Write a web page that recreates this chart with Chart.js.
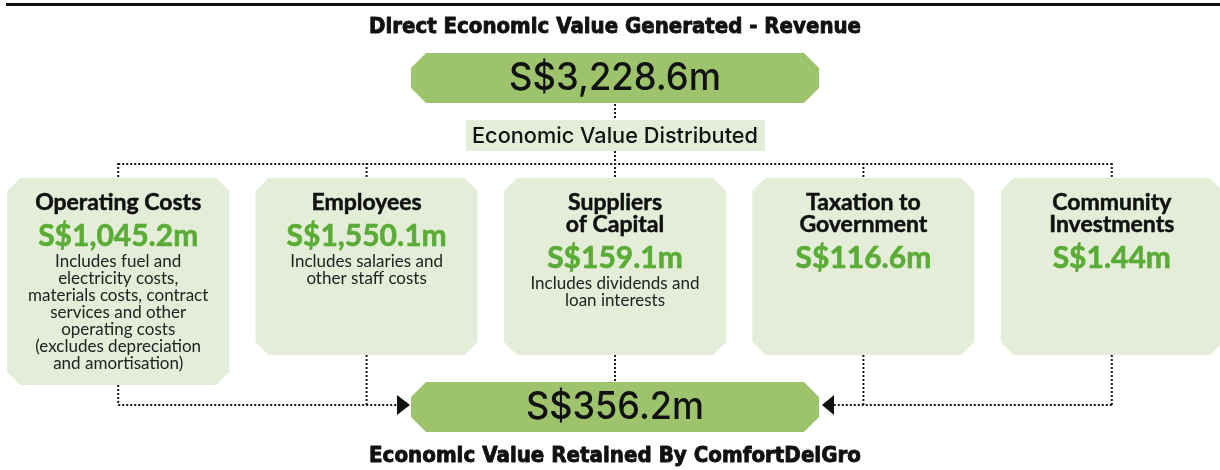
<!DOCTYPE html>
<html>
<head>
<meta charset="utf-8">
<script src="https://cdn.jsdelivr.net/npm/chart.js@4.4.0/dist/chart.umd.min.js"></script>
<style>
    html, body { margin: 0; padding: 0; background: #fff; overflow: hidden; width: 1220px; height: 470px; }
    #wrap { position: absolute; left: -6px; top: 0; width: 1242px; height: 470px; }
</style>
</head>
<body>
<div id="wrap"><canvas id="flowChart"></canvas></div>
<script>
// data
const categories = [['Operating Costs'], ['Employees'], ['Suppliers', 'of Capital'], ['Taxation to', 'Government'], ['Community', 'Investments']];
const values = [1045.2, 1550.1, 159.1, 116.6, 1.44];
const notes = [
    ['Includes fuel and', 'electricity costs,', 'materials costs, contract', 'services and other', 'operating costs', '(excludes depreciation', 'and amortisation)'],
    ['Includes salaries and', 'other staff costs'],
    ['Includes dividends and', 'loan interests'],
    [],
    []
];
const revenue = 3228.6;
const retained = 356.2;
const titleTop = 'Direct Economic Value Generated - Revenue';
const titleMiddle = 'Economic Value Distributed';
const titleBottom = 'Economic Value Retained By ComfortDelGro';

const HEX_GREEN = '#9dc46c';
const BOX_GREEN = '#e4edd8';
const VALUE_GREEN = '#5aac36';

function money(v) {
    return 'S$' + v.toLocaleString('en-US', { minimumFractionDigits: 1, maximumFractionDigits: 2 }) + 'm';
}

// box layout: title lines, value, notes
const BOX_TOP = 178;
function valueY(i) { return 203 + (categories[i].length - 1) * 22 + 33; }
function noteY(i) { return valueY(i) + 26; }
function boxBottom(i) {
    const last = noteY(i) + (notes[i].length - 1) * 17;
    return Math.max(355, last + 21);
}
const boxes = categories.map((c, i) => [BOX_TOP, boxBottom(i)]);

function octagon(ctx, l, t, r, b, c) {
    ctx.beginPath();
    ctx.moveTo(l + c, t);
    ctx.lineTo(r - c, t);
    ctx.lineTo(r, t + c);
    ctx.lineTo(r, b - c);
    ctx.lineTo(r - c, b);
    ctx.lineTo(l + c, b);
    ctx.lineTo(l, b - c);
    ctx.lineTo(l, t + c);
    ctx.closePath();
}

function dotted(ctx, pts) {
    ctx.save();
    ctx.strokeStyle = '#1a1a1a';
    ctx.lineWidth = 2;
    ctx.setLineDash([2, 2]);
    ctx.beginPath();
    ctx.moveTo(pts[0][0], pts[0][1]);
    for (let k = 1; k < pts.length; k++) ctx.lineTo(pts[k][0], pts[k][1]);
    ctx.stroke();
    ctx.restore();
}

// heavy = extra stroke to thicken the glyphs
function text(ctx, str, x, y, font, color, maxW, heavy) {
    ctx.font = font;
    ctx.fillStyle = color;
    ctx.textAlign = 'center';
    ctx.textBaseline = 'middle';
    ctx.fillText(str, x, y, maxW);
    if (heavy) {
        ctx.strokeStyle = color;
        ctx.lineWidth = heavy;
        ctx.lineJoin = 'round';
        ctx.strokeText(str, x, y, maxW);
    }
}

const flowPlugin = {
    id: 'flow',
    afterDatasetsDraw(chart) {
        const ctx = chart.ctx;
        const area = chart.chartArea;
        const cx = (area.left + area.right) / 2;
        const bars = chart.getDatasetMeta(0).data;
        const xs = bars.map(b => b.x);

        ctx.save();

        // rule at the top
        ctx.fillStyle = '#111';
        ctx.fillRect(12, 3, area.right, 3);

        text(ctx, titleTop, cx, 28, 'bold 21px "DejaVu Sans"', '#111', 492, 0.9);

        // connectors above the boxes
        const busY = 164;
        dotted(ctx, [[cx, 104], [cx, 120]]);
        dotted(ctx, [[cx, 151], [cx, busY]]);
        dotted(ctx, [[xs[0], busY], [xs[xs.length - 1], busY]]);
        xs.forEach(x => dotted(ctx, [[x, busY - 1], [x, BOX_TOP]]));

        // connectors below the boxes
        const lowY = 405;
        bars.forEach((b, i) => {
            const bottom = Math.max(b.y, b.base);
            if (i === 2) dotted(ctx, [[b.x, bottom], [b.x, 382]]);
            else dotted(ctx, [[b.x, bottom], [b.x, lowY]]);
        });
        dotted(ctx, [[xs[0], lowY], [cx - 218, lowY]]);
        dotted(ctx, [[xs[xs.length - 1], lowY], [cx + 219, lowY]]);

        // arrows
        ctx.fillStyle = '#111';
        ctx.beginPath();
        ctx.moveTo(cx - 218, 395); ctx.lineTo(cx - 205, 405); ctx.lineTo(cx - 218, 415);
        ctx.closePath(); ctx.fill();
        ctx.beginPath();
        ctx.moveTo(cx + 219, 395); ctx.lineTo(cx + 207, 405); ctx.lineTo(cx + 219, 415);
        ctx.closePath(); ctx.fill();

        // revenue hexagon
        ctx.fillStyle = HEX_GREEN;
        octagon(ctx, cx - 204, 53, cx + 204, 103, 15);
        ctx.fill();
        text(ctx, money(revenue), cx, 79, '500 38px Inter', '#111', 212);

        // distributed label
        ctx.fillStyle = BOX_GREEN;
        ctx.fillRect(cx - 149, 120, 299, 31);
        text(ctx, titleMiddle, cx, 136, '500 22px Inter', '#111', 286);

        // category boxes
        bars.forEach((b, i) => {
            const l = b.x - b.width / 2, r = b.x + b.width / 2;
            const t = Math.min(b.y, b.base), btm = Math.max(b.y, b.base);
            ctx.fillStyle = BOX_GREEN;
            octagon(ctx, l, t, r, btm, 13);
            ctx.fill();
            categories[i].forEach((line, k) => {
                text(ctx, line, b.x, 203 + k * 22, 'bold 23px Lato', '#111', 170, 0.5);
            });
            text(ctx, money(values[i]), b.x, valueY(i), 'bold 30px Lato', VALUE_GREEN, 166, 0.6);
            notes[i].forEach((line, k) => {
                text(ctx, line, b.x, noteY(i) + k * 17, '17px Lato', '#222', 192);
            });
        });

        // retained hexagon
        ctx.fillStyle = HEX_GREEN;
        octagon(ctx, cx - 204, 382, cx + 204, 432, 15);
        ctx.fill();
        text(ctx, money(retained), cx, 408, '500 38px Inter', '#111', 178);

        text(ctx, titleBottom, cx, 457, 'bold 21px "DejaVu Sans"', '#111', 492, 0.9);

        ctx.restore();
    }
};

new Chart(document.getElementById('flowChart'), {
    type: 'bar',
    data: {
        labels: categories,
        datasets: [{
            data: boxes,
            backgroundColor: 'rgba(0,0,0,0)',
            borderWidth: 0,
            barPercentage: 0.894,
            categoryPercentage: 1
        }]
    },
    options: {
        responsive: true,
        maintainAspectRatio: false,
        animation: false,
        events: [],
        layout: { padding: 0 },
        plugins: {
            legend: { display: false },
            tooltip: { enabled: false }
        },
        scales: {
            x: { display: false },
            y: { display: false, min: 0, max: 470, reverse: true }
        }
    },
    plugins: [flowPlugin]
});
</script>
</body>
</html>
